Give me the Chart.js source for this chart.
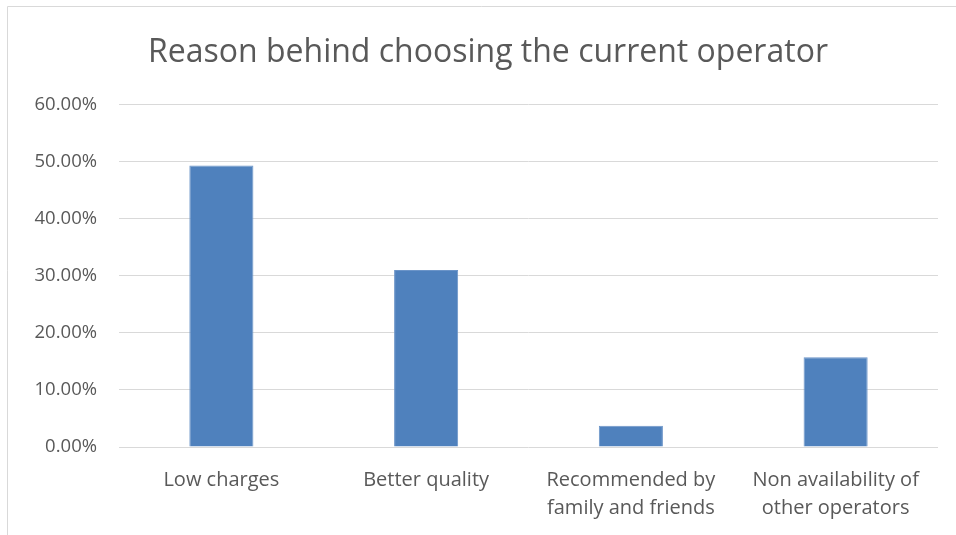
<!DOCTYPE html>
<html>
<head>
<meta charset="utf-8">
<script src="https://cdn.jsdelivr.net/npm/chart.js@4/dist/chart.umd.min.js"></script>
<style>
  html, body { margin: 0; padding: 0; background: #fff; }
  #wrap { width: 956px; height: 535px; }
</style>
</head>
<body>
<div id="wrap"><canvas id="operator-chart" width="956" height="535"></canvas></div>
<script>
const reasons = [
  'Low charges',
  'Better quality',
  ['Recommended by', 'family and friends'],
  ['Non availability of', 'other operators']
];
const sharePct = [49.3, 31.0, 3.7, 15.7];
const yTicks = [0, 10, 20, 30, 40, 50, 60];

const textGrey = '#595959';
const fontFamily = '"Open Sans", Lato, sans-serif';

// linear scale whose tick labels may spill past the axis box into the padding
class OpenLinearScale extends Chart.LinearScale {
  static id = 'openLinear';
  static defaults = Chart.LinearScale.defaults;
  _computeLabelArea() { return undefined; }
}
Chart.register(OpenLinearScale);

// thin light frame around the chart object (left and top edges are visible)
const framePlugin = {
  id: 'frame',
  beforeDraw(chart) {
    const ctx = chart.ctx;
    ctx.save();
    ctx.strokeStyle = '#d9d9d9';
    ctx.lineWidth = 1;
    ctx.beginPath();
    ctx.moveTo(7.5, chart.height);
    ctx.lineTo(7.5, 6.5);
    ctx.lineTo(chart.width, 6.5);
    ctx.stroke();
    ctx.restore();
  }
};

new Chart(document.getElementById('operator-chart'), {
  type: 'bar',
  data: {
    labels: reasons,
    datasets: [{
      data: sharePct,
      backgroundColor: '#4f81bd',
      borderColor: '#6b94c8',
      borderWidth: 1,
      categoryPercentage: 1,
      barPercentage: 0.313
    }]
  },
  plugins: [framePlugin],
  options: {
    responsive: false,
    animation: false,
    layout: { padding: { left: 38, right: 18, top: 0, bottom: 0 } },
    plugins: {
      legend: { display: false },
      tooltip: { enabled: false },
      title: {
        display: true,
        text: 'Reason behind choosing the current operator',
        color: textGrey,
        font: { family: fontFamily, size: 32, weight: 'normal' },
        padding: { top: 34, bottom: 32 }
      }
    },
    scales: {
      x: {
        grid: { display: false, drawTicks: false },
        border: { display: false },
        ticks: {
          color: textGrey,
          font: { family: fontFamily, size: 20, lineHeight: 1.4 },
          padding: 19,
          maxRotation: 0,
          autoSkip: false
        },
        afterFit(axis) { axis.height = 88; }
      },
      y: {
        type: 'openLinear',
        min: 0,
        max: 60,
        afterBuildTicks(axis) { axis.ticks = yTicks.map(v => ({ value: v })); },
        grid: { color: '#d9d9d9', lineWidth: 1, drawTicks: false },
        border: { display: false },
        ticks: {
          color: textGrey,
          font: { family: fontFamily, size: 18.5 },
          padding: 22,
          callback: v => v.toFixed(2) + '%'
        },
        afterFit(axis) { axis.width = 81; }
      }
    }
  }
});
</script>
</body>
</html>
